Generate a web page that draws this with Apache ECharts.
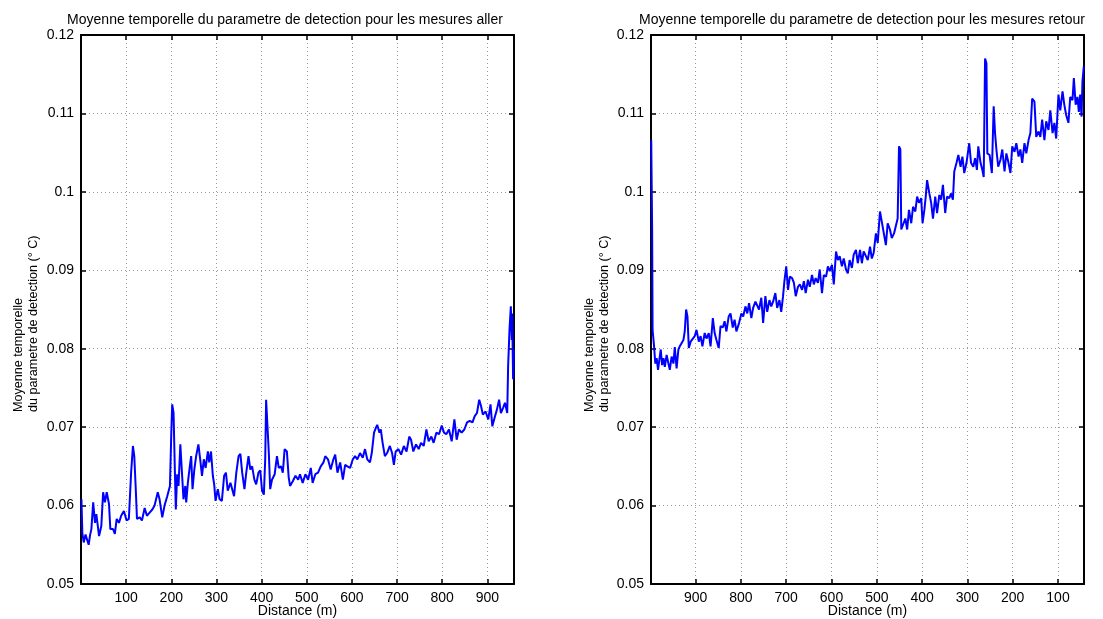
<!DOCTYPE html>
<html><head><meta charset="utf-8">
<script src="https://cdn.jsdelivr.net/npm/echarts@6/dist/echarts.min.js"></script>
<style>html,body{margin:0;padding:0;background:#fff}#c{width:1103px;height:619px}</style>
</head><body><div id="c"></div>
<script>
const titleAller = 'Moyenne temporelle du parametre de detection pour les mesures aller';
const titleRetour = 'Moyenne temporelle du parametre de detection pour les mesures retour';
const yAxisName = 'Moyenne temporelle\ndu parametre de detection (° C)';
const xAxisName = 'Distance (m)';
const yTicks = [0.05, 0.06, 0.07, 0.08, 0.09, 0.1, 0.11, 0.12];
const xTicksAller = [100, 200, 300, 400, 500, 600, 700, 800, 900];
const xTicksRetour = [900, 800, 700, 600, 500, 400, 300, 200, 100];
const xRangeAller = [0, 959];
const xRangeRetour = [42.6, 998.5];

// [distance (m), value]
const aller = [[1,0.0608],[3,0.0565],[6,0.0553],[10,0.0563],[14,0.0561],[17,0.0550],[20,0.0562],[23,0.0570],[27,0.0604],[31,0.0578],[34,0.0589],[37,0.0575],[40,0.0561],[45,0.0574],[49,0.0617],[53,0.0604],[57,0.0617],[62,0.0602],[65,0.0570],[71,0.0570],[75,0.0564],[79,0.0583],[84,0.0578],[89,0.0587],[95,0.0593],[101,0.0581],[106,0.0583],[111,0.0642],[115,0.0676],[118,0.0663],[121,0.0625],[124,0.0583],[130,0.0585],[135,0.0581],[141,0.0597],[146,0.0587],[152,0.0591],[158,0.0595],[163,0.0600],[170,0.0617],[174,0.0608],[180,0.0585],[185,0.0600],[191,0.0612],[197,0.0625],[200,0.0693],[202,0.0729],[205,0.0718],[208,0.0642],[210,0.0595],[213,0.0640],[216,0.0625],[220,0.0678],[224,0.0638],[227,0.0608],[231,0.0625],[233,0.0604],[237,0.0631],[241,0.0650],[244,0.0663],[247,0.0621],[251,0.0646],[255,0.0663],[260,0.0678],[264,0.0659],[268,0.0638],[272,0.0659],[276,0.0648],[281,0.0669],[284,0.0655],[288,0.0669],[292,0.0638],[295,0.0627],[298,0.0606],[303,0.0621],[307,0.0608],[312,0.0606],[317,0.0638],[321,0.0642],[325,0.0619],[331,0.0629],[335,0.0631],[339,0.0612],[344,0.0642],[349,0.0663],[353,0.0666],[357,0.0642],[362,0.0621],[366,0.0642],[371,0.0663],[375,0.0646],[379,0.0650],[384,0.0633],[388,0.0627],[393,0.0642],[397,0.0645],[401,0.0619],[405,0.0614],[408,0.0659],[410,0.0735],[413,0.0733],[416,0.0667],[419,0.0621],[423,0.0633],[429,0.0640],[434,0.0663],[438,0.0648],[443,0.0650],[447,0.0642],[451,0.0672],[456,0.0669],[460,0.0636],[463,0.0625],[469,0.0631],[475,0.0638],[481,0.0633],[485,0.0640],[491,0.0629],[497,0.0640],[503,0.0633],[509,0.0648],[513,0.0629],[519,0.0640],[525,0.0642],[531,0.0650],[537,0.0655],[541,0.0663],[547,0.0659],[553,0.0646],[559,0.0659],[563,0.0665],[568,0.0642],[574,0.0655],[580,0.0633],[585,0.0652],[590,0.0650],[596,0.0648],[602,0.0659],[607,0.0663],[612,0.0659],[618,0.0667],[624,0.0661],[629,0.0672],[634,0.0659],[640,0.0655],[644,0.0667],[649,0.0693],[653,0.0699],[656,0.0703],[661,0.0693],[664,0.0697],[668,0.0680],[673,0.0663],[678,0.0667],[684,0.0676],[689,0.0667],[693,0.0652],[697,0.0669],[703,0.0672],[709,0.0665],[715,0.0676],[721,0.0669],[727,0.0688],[731,0.0684],[736,0.0669],[742,0.0678],[748,0.0672],[753,0.0680],[759,0.0676],[765,0.0697],[770,0.0682],[776,0.0688],[781,0.0680],[787,0.0693],[793,0.0691],[799,0.0702],[804,0.0693],[809,0.0691],[815,0.0697],[821,0.0682],[827,0.0710],[832,0.0684],[837,0.0697],[843,0.0693],[849,0.0697],[855,0.0706],[861,0.0708],[867,0.0706],[872,0.0714],[877,0.0718],[882,0.0735],[886,0.0727],[890,0.0716],[896,0.0720],[902,0.0710],[907,0.0729],[911,0.0701],[916,0.0712],[921,0.0722],[926,0.0735],[930,0.0718],[935,0.0725],[939,0.0731],[944,0.0718],[946,0.0778],[949,0.0824],[952,0.0854],[954,0.0811],[955,0.0845],[957,0.0761],[959,0.0799]];

const retour = [[998,0.1066],[996,0.0952],[995,0.0824],[992,0.0805],[989,0.0781],[986,0.0788],[983,0.0773],[980,0.0786],[977,0.0799],[974,0.0779],[971,0.0788],[968,0.0777],[964,0.0792],[960,0.0781],[957,0.0773],[953,0.0790],[949,0.0781],[946,0.0802],[942,0.0775],[938,0.0799],[935,0.0803],[931,0.0807],[927,0.0811],[924,0.0822],[921,0.0850],[918,0.0841],[915,0.0801],[911,0.0809],[907,0.0807],[902,0.0816],[898,0.0824],[893,0.0809],[889,0.0816],[885,0.0803],[880,0.0820],[876,0.0813],[871,0.0820],[867,0.0803],[862,0.0839],[858,0.0820],[854,0.0811],[849,0.0801],[845,0.0829],[840,0.0827],[836,0.0835],[832,0.0822],[827,0.0841],[823,0.0845],[818,0.0827],[814,0.0837],[810,0.0822],[804,0.0833],[799,0.0845],[795,0.0841],[790,0.0854],[786,0.0845],[782,0.0858],[777,0.0839],[773,0.0852],[768,0.0860],[764,0.0862],[760,0.0850],[755,0.0865],[751,0.0833],[746,0.0867],[742,0.0847],[737,0.0862],[733,0.0854],[729,0.0860],[724,0.0871],[720,0.0852],[715,0.0862],[711,0.0847],[707,0.0867],[704,0.0886],[700,0.0905],[696,0.0875],[692,0.0892],[687,0.0890],[683,0.0884],[679,0.0867],[674,0.0879],[670,0.0882],[665,0.0875],[661,0.0886],[657,0.0871],[652,0.0888],[648,0.0879],[643,0.0894],[639,0.0882],[635,0.0890],[630,0.0884],[626,0.0901],[621,0.0871],[617,0.0894],[612,0.0892],[608,0.0905],[604,0.0899],[599,0.0907],[595,0.0882],[590,0.0924],[586,0.0913],[582,0.0918],[577,0.0905],[573,0.0915],[568,0.0901],[564,0.0896],[560,0.0913],[555,0.0903],[551,0.0920],[546,0.0926],[542,0.0909],[537,0.0926],[533,0.0909],[529,0.0924],[524,0.0918],[520,0.0913],[515,0.0930],[511,0.0915],[507,0.0922],[502,0.0947],[498,0.0935],[493,0.0975],[489,0.0962],[485,0.0964],[480,0.0932],[476,0.0960],[471,0.0952],[467,0.0941],[462,0.0947],[458,0.0945],[454,0.0966],[451,0.1058],[448,0.1054],[446,0.0952],[442,0.0952],[437,0.0966],[433,0.0952],[429,0.0977],[424,0.0960],[420,0.0981],[415,0.0975],[411,0.0994],[407,0.0986],[402,0.0992],[399,0.0960],[395,0.0977],[392,0.0994],[389,0.1015],[384,0.0998],[380,0.0986],[376,0.0966],[371,0.0994],[367,0.0973],[362,0.0996],[358,0.0990],[354,0.1009],[349,0.0973],[345,0.0994],[340,0.0992],[336,0.0998],[332,0.0990],[329,0.1026],[324,0.1037],[320,0.1047],[315,0.1032],[311,0.1045],[307,0.1024],[302,0.1037],[296,0.1062],[292,0.1037],[287,0.1032],[283,0.1043],[279,0.1028],[276,0.1058],[271,0.1037],[267,0.1028],[264,0.1019],[261,0.1170],[258,0.1164],[256,0.1049],[251,0.1047],[246,0.1024],[242,0.1109],[239,0.1075],[236,0.1054],[232,0.1032],[227,0.1041],[223,0.1054],[218,0.1026],[214,0.1049],[210,0.1039],[205,0.1024],[201,0.1058],[196,0.1051],[192,0.1062],[187,0.1045],[183,0.1054],[179,0.1037],[174,0.1062],[170,0.1049],[165,0.1066],[161,0.1075],[157,0.1119],[152,0.1115],[148,0.1070],[143,0.1077],[139,0.1070],[135,0.1092],[130,0.1066],[126,0.1090],[121,0.1079],[117,0.1104],[112,0.1075],[108,0.1088],[104,0.1068],[99,0.1124],[95,0.1104],[90,0.1128],[86,0.1111],[82,0.1098],[77,0.1088],[73,0.1121],[68,0.1117],[65,0.1145],[61,0.1111],[57,0.1121],[54,0.1102],[51,0.1124],[48,0.1096],[46,0.1141],[43,0.1160]];

const FONT = '"Liberation Sans", Arial, Helvetica, sans-serif';
const chart = echarts.init(document.getElementById('c'), null, {renderer: 'canvas'});

const axisLine = {show: true, onZero: false, lineStyle: {color: '#000', width: 2}};
const tick = {show: true, inside: true, length: 5, lineStyle: {color: '#000', width: 1.5}};
const split = {show: true, lineStyle: {color: '#999', width: 1, type: [1, 3]}};
const lbl = {color: '#000', fontSize: 14, fontFamily: FONT};

function xAx(grid, pos, main, range, inverse, customs) {
  const a = {
    type: 'value', gridIndex: grid, position: pos, min: range[0], max: range[1], inverse: inverse,
    axisLine: axisLine,
    axisTick: Object.assign({}, tick),
    axisLabel: Object.assign({show: main, margin: 7, showMinLabel: false, showMaxLabel: false}, lbl),
    splitLine: Object.assign({}, split, {show: main})
  };
  if (customs) {
    a.axisTick.customValues = customs;
    a.axisLabel.customValues = customs;
    a.axisLabel.showMinLabel = true;
    a.axisLabel.showMaxLabel = true;
  } else {
    a.interval = 100;
  }
  if (main) {
    a.name = xAxisName; a.nameLocation = 'middle'; a.nameGap = 20; a.nameMoveOverlap = false;
    a.nameTextStyle = {color: '#000', fontSize: 14, fontFamily: FONT};
  }
  return a;
}
function yAx(grid, pos, main) {
  return {
    type: 'value', gridIndex: grid, position: pos,
    min: yTicks[0], max: yTicks[yTicks.length - 1], interval: 0.01,
    axisLine: axisLine,
    axisTick: Object.assign({}, tick),
    axisLabel: Object.assign({show: main, margin: 7, formatter: v => String(+v.toFixed(2))}, lbl),
    splitLine: Object.assign({}, split, {show: main})
  };
}
function yName(x) {
  return {
    type: 'text', x: x, y: 412, rotation: Math.PI / 2,
    style: {text: yAxisName, fill: '#000', font: '12.6px ' + FONT, align: 'left', verticalAlign: 'middle', lineHeight: 15}
  };
}

chart.setOption({
  animation: false,
  backgroundColor: '#fff',
  title: [
    {text: titleAller, left: 280, top: 8, textAlign: 'center', textStyle: {fontSize: 14, fontWeight: 'normal', color: '#000', fontFamily: FONT}},
    {text: titleRetour, left: 857, top: 8, textAlign: 'center', textStyle: {fontSize: 14, fontWeight: 'normal', color: '#000', fontFamily: FONT}}
  ],
  grid: [
    {left: 81, top: 35, width: 433, height: 549, outerBoundsMode: 'none', containLabel: false},
    {left: 651, top: 35, width: 433, height: 549, outerBoundsMode: 'none', containLabel: false}
  ],
  graphic: [yName(26.5), yName(597.5)],
  xAxis: [
    xAx(0, 'bottom', true, xRangeAller, false, null),
    xAx(0, 'top', false, xRangeAller, false, null),
    xAx(1, 'bottom', true, xRangeRetour, true, xTicksRetour),
    xAx(1, 'top', false, xRangeRetour, true, xTicksRetour)
  ],
  yAxis: [
    yAx(0, 'left', true), yAx(0, 'right', false),
    yAx(1, 'left', true), yAx(1, 'right', false)
  ],
  series: [
    {type: 'line', xAxisIndex: 0, yAxisIndex: 0, data: aller, showSymbol: false, lineStyle: {color: '#0000ff', width: 2}, z: 5},
    {type: 'line', xAxisIndex: 2, yAxisIndex: 2, data: retour, showSymbol: false, lineStyle: {color: '#0000ff', width: 2}, z: 5}
  ]
});
</script></body></html>
